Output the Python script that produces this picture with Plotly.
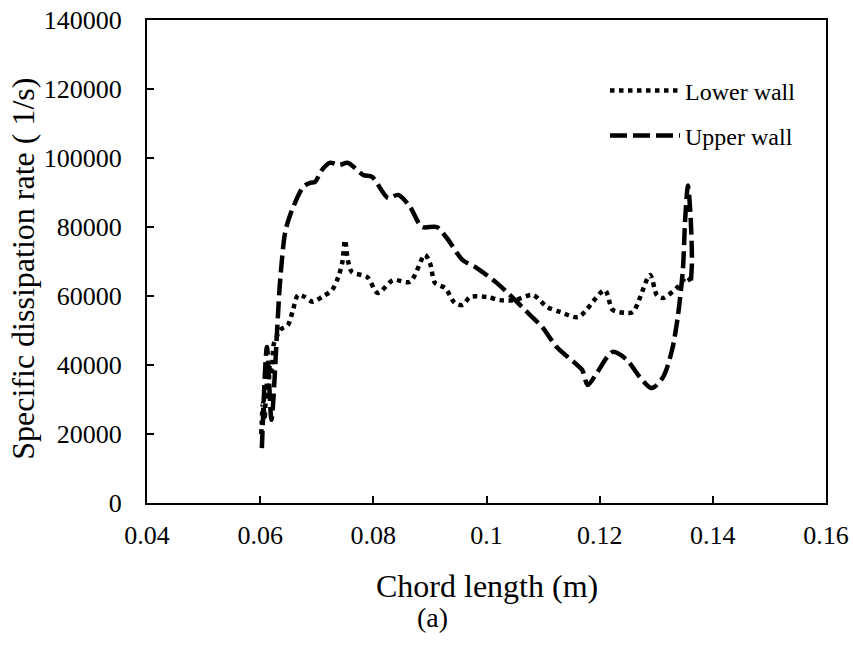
import plotly.graph_objects as go

# Chord length (m) and specific dissipation rate (1/s)
lower_x = [0.0602, 0.0605, 0.0608, 0.0611, 0.0614, 0.0617, 0.0620, 0.0624, 0.0630, 0.0635,
           0.0649, 0.0658, 0.0667, 0.0679, 0.0693, 0.0709, 0.0727, 0.0738, 0.0745, 0.0750,
           0.0755, 0.0762, 0.0789, 0.0808, 0.0835, 0.0865, 0.0891, 0.0900, 0.0909, 0.0927,
           0.0944, 0.0958, 0.0971, 0.1001, 0.1024, 0.1050, 0.1082, 0.1107, 0.1130, 0.1162,
           0.1209, 0.1223, 0.1245, 0.1259, 0.1289, 0.1301, 0.1312, 0.1338, 0.1354, 0.1363]
lower_y = [20000, 29000, 25000, 35000, 30000, 40000, 37000, 46000, 48500, 50200,
           51600, 56000, 60300, 59700, 58300, 59700, 61700, 65500, 69600, 76200,
           70400, 67000, 65500, 60900, 64600, 64100, 71900, 69600, 63800, 62300,
           58000, 57400, 59700, 59700, 58800, 58800, 60300, 56800, 55400, 53900,
           61700, 56000, 55100, 55400, 66100, 60300, 59400, 62600, 65500, 63800]

upper_x = [0.0603, 0.0612, 0.0620, 0.0630, 0.0635, 0.0644, 0.0653, 0.0676, 0.0688, 0.0697,
           0.0709, 0.0723, 0.0740, 0.0755, 0.0782, 0.0798, 0.0826, 0.0844, 0.0865, 0.0886,
           0.0912, 0.0930, 0.0958, 0.0983, 0.1018, 0.1047, 0.1077, 0.1100, 0.1124, 0.1156,
           0.1169, 0.1179, 0.1195, 0.1223, 0.1248, 0.1271, 0.1292, 0.1312, 0.1328, 0.1338,
           0.1347, 0.1351, 0.1356, 0.1361, 0.1363, 0.1361]
upper_y = [15900, 45200, 24100, 50200, 63800, 78300, 83500, 91600, 92800, 93100,
           96500, 98600, 98000, 98600, 95100, 94500, 88400, 89300, 85800, 80000,
           80000, 76800, 70400, 68100, 63800, 59400, 54500, 50700, 45200, 40600,
           38600, 34200, 37700, 43800, 41500, 36500, 33300, 36500, 44400, 53900,
           67500, 82000, 92000, 82000, 69600, 63800]

x_ticks = [0.04, 0.06, 0.08, 0.1, 0.12, 0.14, 0.16]
x_tick_text = ["0.04", "0.06", "0.08", "0.1", "0.12", "0.14", "0.16"]
y_ticks = [0, 20000, 40000, 60000, 80000, 100000, 120000, 140000]
y_tick_text = ["0", "20000", "40000", "60000", "80000", "100000", "120000", "140000"]

FONT = "Liberation Serif"

fig = go.Figure()
fig.add_trace(go.Scatter(
    x=lower_x, y=lower_y, mode="lines", name="Lower wall",
    line=dict(color="black", width=4.5, dash="dot", shape="spline", smoothing=0.8),
    legendgroup="a",
))
fig.add_trace(go.Scatter(
    x=upper_x, y=upper_y, mode="lines", name="Upper wall",
    line=dict(color="black", width=4.5, dash="17px,6px", shape="spline", smoothing=0.8),
    legendgroup="b",
))

fig.update_layout(
    width=853, height=648,
    margin=dict(l=147, r=27, t=20, b=145),
    paper_bgcolor="white", plot_bgcolor="white",
    font=dict(family=FONT, color="black", size=26),
    showlegend=True,
    legend=dict(
        x=(605 - 147) / 679, y=0.9, xanchor="left", yanchor="top",
        bgcolor="rgba(0,0,0,0)", font=dict(size=24, family=FONT),
        tracegroupgap=11, itemwidth=70,
    ),
    xaxis=dict(
        range=[0.04, 0.16], tickvals=x_ticks, ticktext=x_tick_text, automargin=False,
        showgrid=False, zeroline=False, showline=True, linecolor="black", linewidth=2,
        mirror=True, ticks="inside", ticklen=7, tickwidth=1.5, tickcolor="black",
        ticklabelstandoff=8, tickfont=dict(size=26, family=FONT),
    ),
    yaxis=dict(
        range=[0, 140000], tickvals=y_ticks, ticktext=y_tick_text, automargin=False,
        showgrid=False, zeroline=False, showline=True, linecolor="black", linewidth=2,
        mirror=True, ticks="inside", ticklen=7, tickwidth=1.5, tickcolor="black",
        ticklabelstandoff=18, tickfont=dict(size=26, family=FONT),
    ),
    annotations=[
        dict(text="Chord length (m)", xref="paper", yref="paper", x=0.5, y=-0.172,
             xanchor="center", yanchor="middle", showarrow=False,
             font=dict(size=32, family=FONT)),
        dict(text="(a)", xref="paper", yref="paper", x=(432 - 147) / 679, y=-0.238,
             xanchor="center", yanchor="middle", showarrow=False,
             font=dict(size=28, family=FONT)),
        dict(text="Specific dissipation rate ( 1/s)", xref="paper", yref="paper",
             x=(23 - 147) / 679, y=0.485, textangle=-90,
             xanchor="center", yanchor="middle", showarrow=False,
             font=dict(size=32, family=FONT)),
    ],
)

fig.write_html("out.html", post_script="document.body.style.margin='0';",
               config={"displayModeBar": False})
